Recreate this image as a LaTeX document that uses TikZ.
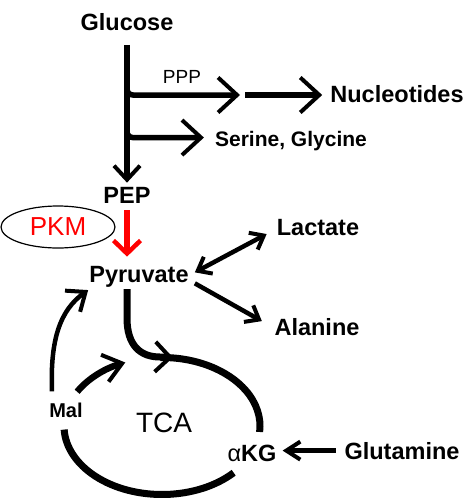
\documentclass[tikz,border=0pt]{standalone}
\usepackage{fontspec}
\setmainfont{Liberation Sans}
\usetikzlibrary{arrows.meta, shapes.geometric, positioning, calc}

\begin{document}
\begin{tikzpicture}[x=1pt, y=-1pt,
  lbl/.style={font=\fontsize{23.5}{28}\selectfont\bfseries, anchor=base, inner sep=2pt},
  small/.style={font=\fontsize{21}{24}\selectfont\bfseries, anchor=base, inner sep=2pt},
  plain/.style={anchor=base, inner sep=2pt},
  flow/.style={line width=6.5pt, -{Straight Barb[length=14pt, width=26pt, line width=4pt]}},
  wide/.style={line width=5.5pt, -{Straight Barb[length=19pt, width=35pt, line width=4pt]}},
  thin/.style={line width=4.5pt, -{Straight Barb[length=12pt, width=19pt, line width=4pt]}},
  cyc/.style={line width=7pt}]

    \useasboundingbox (0,0) rectangle (474,498);

    % Metabolites
    \node[lbl] (glc) at (127,30.5) {Glucose};
    \node[plain, font=\fontsize{19}{22}\selectfont] (ppp) at (182,83) {PPP};
    \node[lbl] (nuc) at (397,102) {Nucleotides};
    \node[small] (ser) at (291,146) {Serine, Glycine};
    \node[lbl] (pep) at (127,203) {PEP};
    \node[lbl] (pyr) at (139,282) {Pyruvate};
    \node[lbl] (lac) at (318,235) {Lactate};
    \node[lbl] (ala) at (317,335) {Alanine};
    \node[lbl] (gln) at (402,459) {Glutamine};
    \node[lbl] (akg) at (252,461) {{\mdseries α}KG};
    \node[small, font=\fontsize{20}{22}\selectfont\bfseries] (mal) at (66,417) {Mal};
    \node[plain, font=\fontsize{28}{32}\selectfont] (tca) at (164,432) {TCA};
    \node[ellipse, draw, line width=1.2pt, minimum width=114pt, minimum height=42pt,
          text=red, font=\fontsize{26}{30}\selectfont] (pkm) at (58,227) {PKM};

    % Glycolysis and side branches
    \coordinate (b1) at (127,83);
    \coordinate (b2) at (127,126);
    \coordinate (mid) at (242,95);
    \draw[flow, shorten <=12pt, shorten >=2pt] (glc.south) -- (pep.north);
    \draw[wide, rounded corners=6pt, shorten >=2pt] (b1) |- (mid);
    \draw[wide, shorten <=3pt, shorten >=6pt] (mid) -- (mid -| nuc.west);
    \draw[wide, rounded corners=6pt, shorten >=9pt] (b2) |- ([yshift=3pt]ser.west);
    \draw[flow, red, line width=6pt, -{Straight Barb[length=13pt, width=27pt, line width=4.5pt]},
          shorten <=5pt, shorten >=7pt] (pep.south) -- (pep.south |- pyr.north);

    % Pyruvate fates
    \draw[thin, {Straight Barb[length=12pt, width=19pt, line width=4pt]}-{Straight Barb[length=12pt, width=19pt, line width=4pt]}]
          ($(pyr.east)+(4,-4)$) -- ($(lac.west)+(-8,7)$);
    \draw[thin] ($(pyr.east)+(4,7)$) -- ($(ala.west)+(-10.5,-5.5)$);
    \draw[thin, line width=5pt, -{Straight Barb[length=14pt, width=18pt, line width=4pt]}, shorten <=6.5pt]
          (gln.west) -- ([xshift=4pt]gln.west -| akg.east);

    % TCA cycle
    \coordinate (cc) at (162,426);
    \draw[cyc] (cc) ++(91:98pt and 68.5pt) arc[start angle=91, end angle=-5, x radius=98pt, y radius=68.5pt];
    \draw[cyc] (cc) ++(-43:98pt and 68.5pt) arc[start angle=-43, end angle=-177, x radius=98pt, y radius=68.5pt];
    \draw[cyc, line width=6.5pt, -{Straight Barb[length=18pt, width=28pt, line width=4pt]}]
          (cc) ++(150:98pt and 68.5pt) arc[start angle=150, end angle=112, x radius=98pt, y radius=68.5pt];
    \draw[cyc, -{Straight Barb[length=15pt, width=30pt, line width=4pt]}]
          (pep.south |- pyr.south) -- ++(0,29) .. controls +(0,27) and +(-20,0) .. ($(cc)+(-2,-69)$)
          -- ($(cc)+(11,-68.5)$);
    \draw[line width=4.5pt, -{Straight Barb[length=16pt, width=26pt, line width=4pt]}]
          ($(mal.north)+(-14,-9)$) .. controls +(-2,-52) and +(-28,20) .. ($(pyr.south west)+(1,1)$);

\end{tikzpicture}
\end{document}
